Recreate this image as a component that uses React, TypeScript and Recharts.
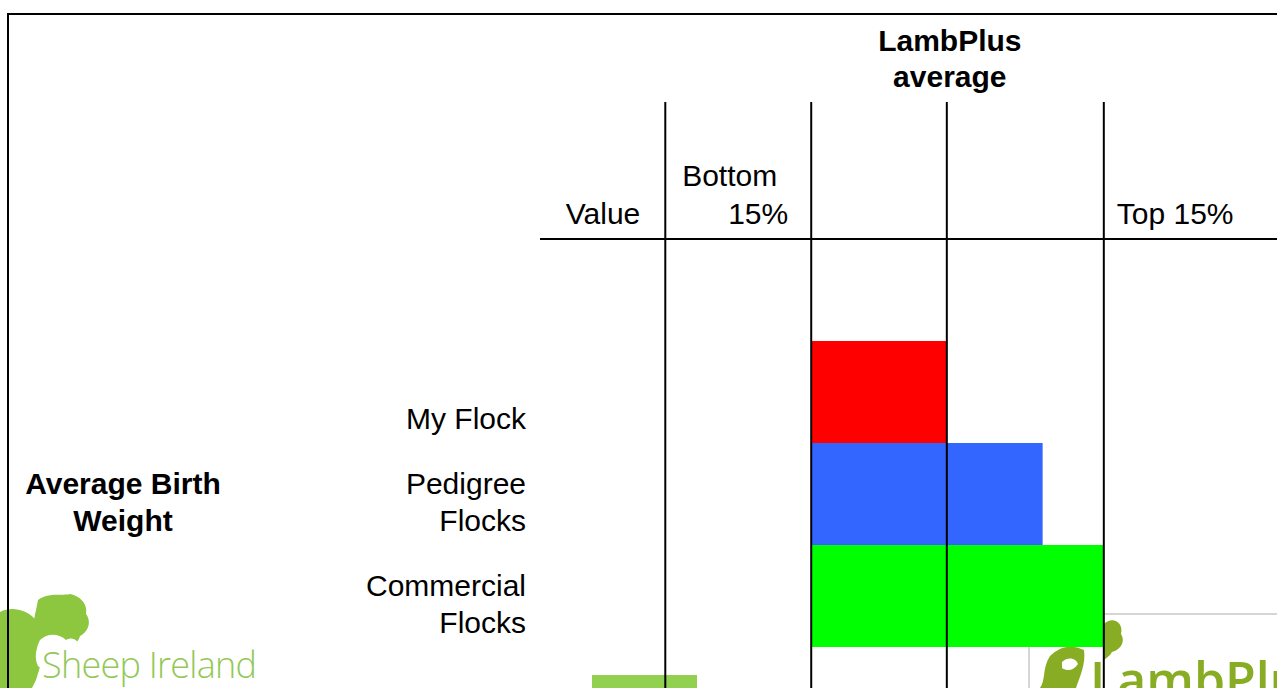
import React from 'react';
import { BarChart, Bar, Cell, XAxis, YAxis, ReferenceLine, Label } from 'recharts';

// rows of the table, top to bottom ('spacer' is the empty row under the header line)
const ROWS = ['spacer', 'My Flock', 'Pedigree\nFlocks', 'Commercial\nFlocks'];
const BAR_END = [null, 5.52, 6.82, 7.65];
const BAR_COLORS = ['none', '#ff0000', '#3366ff', '#00ff00'];

// column boundaries on the value scale
const VALUE_COL = 1.7;
const BOTTOM_15 = 3.68;
const AVERAGE = 5.52;
const TOP_15 = 7.65;

const GROUP_LABEL = ['Average Birth', 'Weight'];

const FONT = '"Liberation Sans", Arial, sans-serif';
const FS = 30;
const LINE = 37;

const data = ROWS.map((name, i) => ({
  name,
  range: BAR_END[i] == null ? null : [BOTTOM_15, BAR_END[i]],
}));

const RowTick = (props: any) => {
  const { x, y, payload } = props;
  if (payload.value === 'spacer') return <g />;
  const lines = String(payload.value).split('\n');
  const last = y + 37;
  return (
    <text textAnchor="end" fontFamily={FONT} fontSize={FS} fill="#000">
      {lines.map((l, i) => (
        <tspan key={i} x={x} y={last - (lines.length - 1 - i) * LINE}>
          {l}
        </tspan>
      ))}
    </text>
  );
};

const txt = (x: number, y: number, s: string, anchor = 'start', bold = false) => (
  <text
    key={s + x + y}
    x={x}
    y={y}
    textAnchor={anchor as any}
    fontFamily={FONT}
    fontSize={FS}
    fontWeight={bold ? 'bold' : 'normal'}
    fill="#000"
  >
    {s}
  </text>
);

const valueLabel = (p: any) => txt(p.viewBox.x - 25, p.viewBox.y + 122, 'Value', 'end');
const bottomLabel = (p: any) => (
  <g>
    {txt(p.viewBox.x - 34, p.viewBox.y + 84, 'Bottom', 'end')}
    {txt(p.viewBox.x - 23, p.viewBox.y + 122, '15%', 'end')}
  </g>
);
const avgLabel = (p: any) => (
  <g>
    {txt(p.viewBox.x + 3, p.viewBox.y - 51, 'LambPlus', 'middle', true)}
    {txt(p.viewBox.x + 3, p.viewBox.y - 15, 'average', 'middle', true)}
  </g>
);
const topLabel = (p: any) => txt(p.viewBox.x + 13, p.viewBox.y + 122, 'Top 15%', 'start');

const groupLabel = (p: any) => (
  <g>
    {GROUP_LABEL.map((l, i) => txt(p.viewBox.x + 123, p.viewBox.y + 392 + i * LINE, l, 'middle', true))}
  </g>
);

function Logos() {
  return (
    <svg width={1277} height={688} style={{ position: 'absolute', left: 0, top: 0 }}>
      {/* Sheep Ireland */}
      <g fill="#8dc63f">
        <path d="M38 600 C48 592 62 596 70 594 C80 596 88 604 86 614 C92 622 88 632 80 636 C78 644 70 648 62 644 C56 640 46 642 40 636 C32 630 34 618 36 610 Z" />
        <path d="M0 612 C12 606 26 610 34 618 C44 624 50 634 46 646 C42 658 40 668 36 680 L32 688 L0 688 Z" />
      </g>
      <path d="M40 640 C48 632 60 634 66 640 C72 636 80 640 78 648 C74 656 64 654 58 660 C52 668 44 672 38 666 C34 658 36 648 40 640 Z" fill="#fff" />
      <text x={42} y={678} fontFamily='"Open Sans", sans-serif' fontWeight={300} fontSize={36} fill="#93c857" textLength={215}>
        Sheep Ireland
      </text>
      <rect x={592} y={675} width={105} height={13} fill="#92d050" />
      {/* LambPlus */}
      <rect x={1029} y={614} width={260} height={80} fill="#fff" stroke="#d6d6d6" strokeWidth={2} />
      <g fill="#88ad24">
        <path d="M1104 624 C1112 616 1124 622 1121 634 C1126 642 1120 650 1112 652 C1110 656 1106 658 1104 660 Z" />
        <path d="M1050 656 C1060 646 1072 644 1084 650 C1086 664 1080 676 1076 688 L1040 688 C1046 680 1042 668 1050 656 Z" />
      </g>
      <path d="M1062 662 C1068 656 1076 658 1078 664 C1074 670 1068 672 1062 668 Z" fill="#fff" />
      <text x={1090} y={698} fontFamily='"Open Sans", sans-serif' fontWeight={600} fontSize={50} fill="#88ad24">
        LambPlus
      </text>
    </svg>
  );
}

export default function App() {
  return (
    <div style={{ position: 'absolute', left: 0, top: 0, width: 1277, height: 688, overflow: 'hidden', background: '#fff' }}>
      <Logos />
      <div style={{ position: 'absolute', left: 0, top: 0 }}>
        <BarChart
          layout="vertical"
          width={1277}
          height={688}
          data={data}
          margin={{ top: 102, right: 0, bottom: 0, left: 0 }}
          barCategoryGap={0}
        >
          <XAxis type="number" domain={[0, 10]} hide />
          <YAxis
            type="category"
            dataKey="name"
            width={540}
            axisLine={false}
            tickLine={false}
            tickSize={0}
            tickMargin={14}
            interval={0}
            padding={{ top: 137, bottom: 41 }}
            tick={RowTick}
          >
            <Label content={groupLabel} />
          </YAxis>
          <Bar dataKey="range" isAnimationActive={false}>
            {data.map((d, i) => (
              <Cell key={d.name} fill={BAR_COLORS[i]} />
            ))}
          </Bar>
          <ReferenceLine y="spacer" position="start" stroke="#000" strokeWidth={2} />
          <ReferenceLine x={VALUE_COL} stroke="#000" strokeWidth={2} label={valueLabel} />
          <ReferenceLine x={BOTTOM_15} stroke="#000" strokeWidth={2} label={bottomLabel} />
          <ReferenceLine x={AVERAGE} stroke="#000" strokeWidth={2} label={avgLabel} />
          <ReferenceLine x={TOP_15} stroke="#000" strokeWidth={2} label={topLabel} />
        </BarChart>
      </div>
      <div
        style={{
          position: 'absolute',
          left: 7,
          top: 13,
          width: 1277,
          height: 688,
          borderTop: '2px solid #000',
          borderLeft: '2px solid #000',
        }}
      />
    </div>
  );
}
